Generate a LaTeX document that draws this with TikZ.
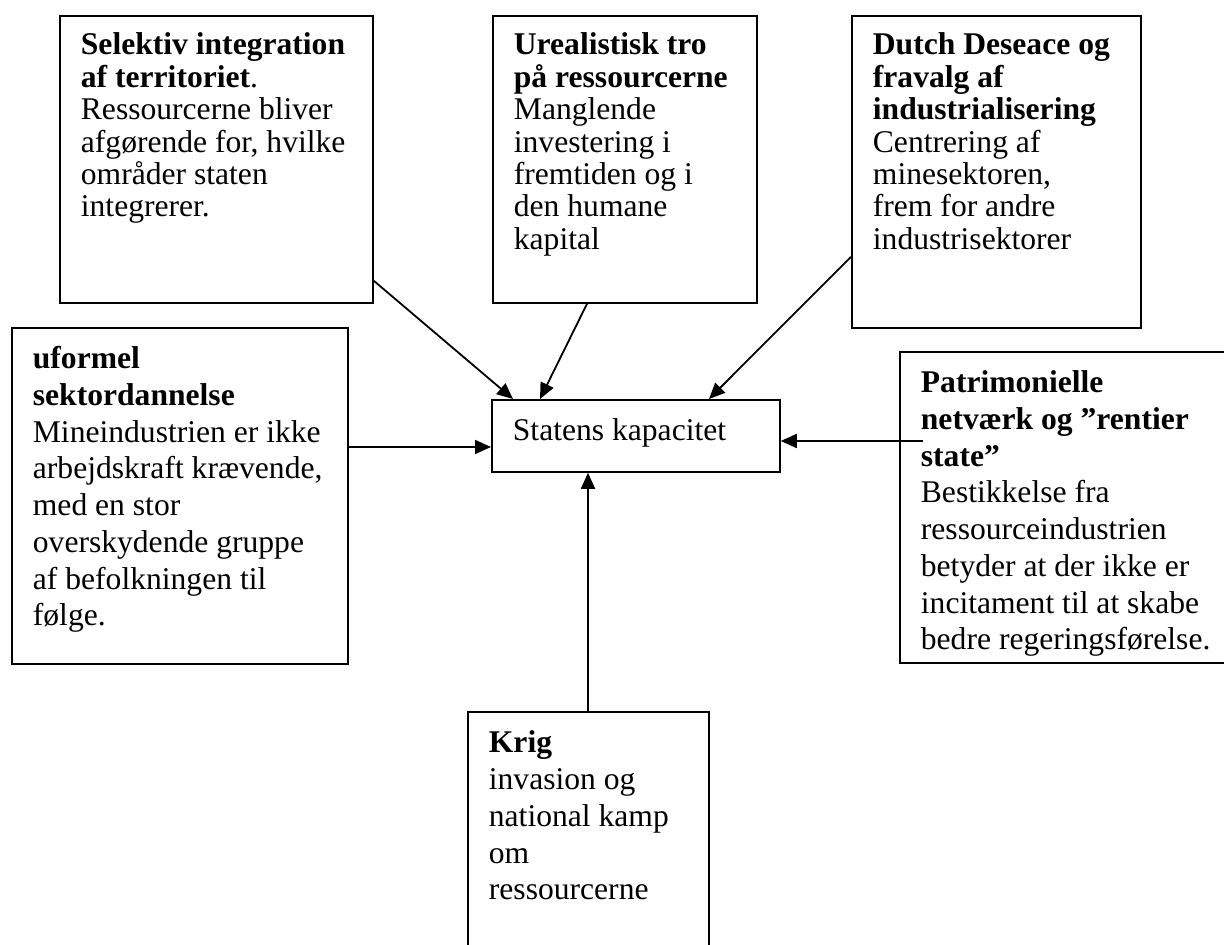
\documentclass[tikz,border=0pt]{standalone}
\usepackage{fontspec}
\setmainfont{Liberation Serif}
\usetikzlibrary{arrows.meta}

\begin{document}
\begin{tikzpicture}[x=0.5pt, y=-0.5pt, line width=0.9pt, >={Triangle[length=8pt,width=7pt]}]
%style for cause box with single line spacing
\tikzstyle{tbox} = [rectangle, draw=black, anchor=north west, align=flush left, inner xsep=10.5pt, inner ysep=8pt, text height=11.5pt, font=\fontsize{15.8}{16.2}\selectfont]

%style for cause box with wider line spacing
\tikzstyle{wbox} = [tbox, text height=12.5pt, font=\fontsize{15.8}{18.35}\selectfont]

\useasboundingbox (0,0) rectangle (1224,945);

%place nodes
\node[tbox, text width=135.5pt, text depth=116pt](terr) at (59,15) {\textbf{Selektiv integration}\\ \textbf{af territoriet}.\\ Ressourcerne bliver\\ afgørende for, hvilke\\ områder staten\\ integrerer.};
\node[tbox, text width=111pt, text depth=116pt](tro) at (492,15) {\textbf{Urealistisk tro}\\ \textbf{på ressourcerne}\\ Manglende\\ investering i\\ fremtiden og i\\ den humane\\ kapital};
\node[tbox, text width=123.5pt, text depth=128.5pt](dutch) at (851,15) {\textbf{Dutch Deseace og}\\ \textbf{fravalg af}\\ \textbf{industrialisering}\\ Centrering af\\ minesektoren,\\ frem for andre\\ industrisektorer};
\node[wbox, text width=147pt, text depth=139.5pt](uformel) at (11,327) {\textbf{uformel}\\ \textbf{sektordannelse}\\ Mineindustrien er ikke\\ arbejdskraft krævende,\\ med en stor\\ overskydende gruppe\\ af befolkningen til\\ følge.};
\node[wbox, text width=123pt, text depth=7.5pt](stat) at (491,399) {Statens kapacitet};
\node[wbox, text width=149.5pt, text depth=127pt](patri) at (899,351) {\textbf{Patrimonielle}\\ \textbf{netværk og ”rentier}\\ \textbf{state”}\\ Bestikkelse fra\\ ressourceindustrien\\ betyder at der ikke er\\ incitament til at skabe\\ bedre regeringsførelse.};
\node[wbox, text width=99.5pt, text depth=96pt](krig) at (467,711) {\textbf{Krig}\\ invasion og\\ national kamp\\ om\\ ressourcerne};

%connect nodes with arrows
\draw[->] ([yshift=11.5pt]terr.south east) -- ([xshift=11pt]stat.north west);
\draw[->] ([xshift=47.5pt]tro.south west) -- ([xshift=24.5pt]stat.north west);
\draw[->] ([yshift=36pt]dutch.south west) -- ([xshift=109pt]stat.north west);
\draw[->] ([yshift=-60pt]uformel.north east) -- ([yshift=-24pt]stat.north west);
\draw[->] ([xshift=12pt,yshift=-45pt]patri.north west) -- ([yshift=-21pt]stat.north east);
\draw[->] ([xshift=60.5pt]krig.north west) -- ([xshift=48.5pt]stat.south west);
\end{tikzpicture}
\end{document}
